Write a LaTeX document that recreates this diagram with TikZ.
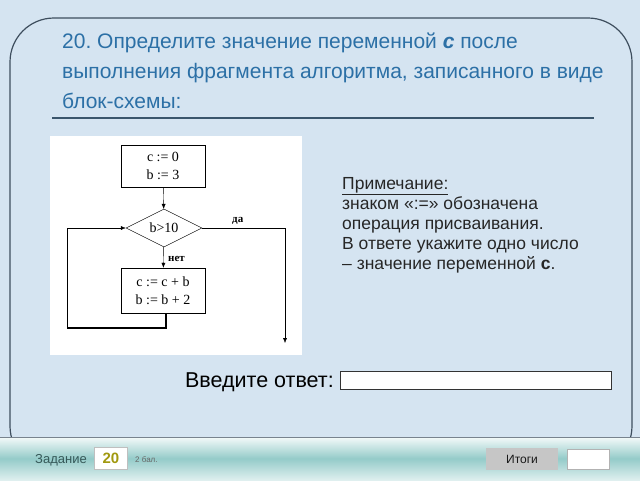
\documentclass[tikz,border=0pt]{standalone}
\usepackage{fontspec}
\setmainfont{Liberation Sans}
\newfontfamily\blockfont{Liberation Serif}
\usetikzlibrary{shapes.geometric,arrows.meta}
\definecolor{paper}{HTML}{D5E4F1}
\definecolor{titleblue}{HTML}{2C70A6}
\definecolor{framegray}{HTML}{3E4E5E}
\definecolor{footteal}{HTML}{94CBC9}
\frenchspacing
\tikzset{
  block/.style={draw,thin,minimum width=84pt,align=center,font=\blockfont\fontsize{14}{18}\selectfont,inner sep=2pt},
  cond/.style={draw,thin,diamond,aspect=2,minimum width=76pt,minimum height=38pt,inner sep=0pt,font=\blockfont\fontsize{14}{16}\selectfont},
  flow/.style={thin,-{Latex[length=5pt,width=4pt]}},
  lbl/.style={font=\blockfont\bfseries\fontsize{11}{13}\selectfont,inner sep=0pt}
}
\begin{document}
\begin{tikzpicture}[x=1pt,y=-1pt]
\useasboundingbox (0,0) rectangle (640,480);
\fill[paper] (0,0) rectangle (640,480);
\draw[framegray,line width=1.2pt,rounded corners=44pt] (10,18) rectangle (632,470);
\node[anchor=north west,align=left,text=titleblue,font=\fontsize{21}{30}\selectfont,inner sep=0pt] (title) at (62,33)
  {20. Определите значение переменной \textbf{\textit{с}} после\\выполнения фрагмента алгоритма, записанного в виде\\блок-схемы:};
\draw[framegray!80!titleblue,line width=2.5pt] (52,118) -- (594,118);
\fill[white] (50,136) rectangle (302,355);
\node[block,minimum height=42pt] (init) at (163,166) {c := 0\\b := 3};
\node[cond] (test) at (164,228) {b>10};
\node[block,minimum height=45pt] (body) at (163,290.5) {c := c + b\\b := b + 2};
\coordinate (down) at (166,328);
\coordinate (left) at (67,328);
\coordinate (back) at (67,228);
\coordinate (turn) at (285,228);
\coordinate (exit) at (285,343);
\draw[flow] (init) -- (test);
\draw[flow] (test) -- (body);
\node[lbl,anchor=west] (no) at (168,259) {нет};
\node[lbl,anchor=west] (yes) at (232,221) {да};
\draw[line width=1.3pt] (body.south -| down) -- (down) -- (left);
\draw[flow] (left) -- (back) -- (test.west);
\draw[flow] (test.east) -- (turn) -- (exit);
\node[anchor=north west,align=left,text=black!85,font=\fontsize{17.5}{20}\selectfont,inner sep=0pt] (note) at (342,177)
  {\underline{Примечание:}\\знаком «:=» обозначена\\операция присваивания.\\В ответе укажите одно число\\– значение переменной \textbf{с}.};
\node[anchor=base east,font=\fontsize{21.5}{24}\selectfont,inner sep=0pt] (ask) at (334,387) {Введите ответ:};
\draw[fill=white,draw=black!80] (340,371) rectangle (611,389);
\shade[top color=white!90!footteal,bottom color=white!70!footteal,middle color=footteal] (0,437) rectangle (640,480);
\draw[framegray!70,line width=1pt] (0,437) -- (640,437);
\node[anchor=base west,text=gray!60!teal!70!black,font=\fontsize{13}{15}\selectfont,inner sep=0pt] (task) at (35,463) {Задание};
\node[draw=gray!50,line width=1.5pt,fill=white,minimum width=33pt,minimum height=22pt,text=olive!70!yellow!90!black,font=\bfseries\fontsize{15}{17}\selectfont] (num) at (111,458.5) {20};
\node[anchor=base west,text=gray!80!black,font=\fontsize{8}{10}\selectfont,inner sep=0pt] (pts) at (135,462) {2 бал.};
\node[fill=gray!45,minimum width=72pt,minimum height=22pt,text=gray!20!black,font=\fontsize{12}{14}\selectfont] (sum) at (522,459) {Итоги};
\node[fill=white,draw=gray!60,minimum width=42pt,minimum height=20pt] (score) at (588,459) {};
\end{tikzpicture}
\end{document}
